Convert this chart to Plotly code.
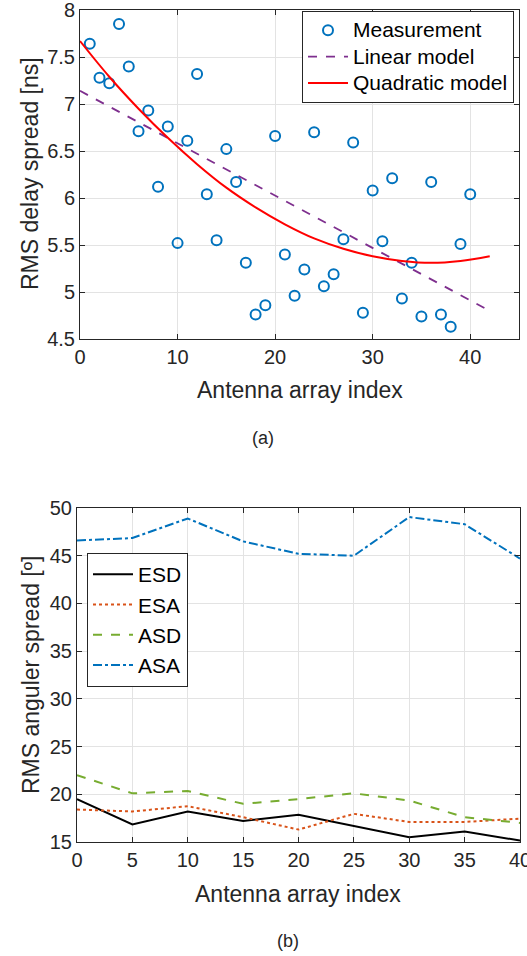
import plotly.graph_objects as go

# ---- data: panel (a) ----
meas_x = list(range(1, 41))
meas_y = [7.64, 7.28, 7.22, 7.85, 7.40, 6.71, 6.93, 6.12, 6.76, 5.52,
          6.61, 7.32, 6.04, 5.55, 6.52, 6.17, 5.31, 4.76, 4.86, 6.66,
          5.40, 4.96, 5.24, 6.70, 5.06, 5.19, 5.56, 6.59, 4.78, 6.08,
          5.54, 6.21, 4.93, 5.31, 4.74, 6.17, 4.76, 4.63, 5.51, 6.04]
lin_x = [0, 42]
lin_y = [7.14, 4.80]
quad_x = [0, 3, 6, 9, 12, 15, 18, 21, 24, 27, 30, 33, 36, 39, 42]
quad_y = [7.67, 7.29, 6.95, 6.64, 6.36, 6.11, 5.90, 5.72, 5.57, 5.46,
          5.38, 5.33, 5.31, 5.33, 5.38]
names_a = ["Measurement", "Linear model", "Quadratic model"]

# ---- data: panel (b) ----
idx = [0, 5, 10, 15, 20, 25, 30, 35, 40]
esd = [19.5, 16.85, 18.2, 17.2, 17.85, 16.65, 15.5, 16.1, 15.15]
esa = [18.4, 18.2, 18.75, 17.6, 16.3, 17.95, 17.1, 17.1, 17.45]
asd = [22.0, 20.1, 20.35, 19.0, 19.5, 20.1, 19.35, 17.6, 17.0]
asa = [46.6, 46.85, 48.9, 46.5, 45.2, 45.0, 49.05, 48.3, 44.7]

W, H = 527, 956
FONT = "Liberation Sans, Arial, Helvetica, sans-serif"
AX = "#262626"
GRID = "#e3e3e3"

def big(t):
    return "<span style='font-size:21px'>" + t + "</span>"

fig = go.Figure()

fig.add_trace(go.Scatter(x=meas_x, y=meas_y, mode="markers", name=big(names_a[0]),
                         marker=dict(symbol="circle-open", size=10, color="#0072BD",
                                     line=dict(width=2, color="#0072BD")),
                         xaxis="x", yaxis="y", legend="legend"))
fig.add_trace(go.Scatter(x=lin_x, y=lin_y, mode="lines", name=big(names_a[1]),
                         line=dict(color="#7E2F8E", dash="dash", width=1.8),
                         xaxis="x", yaxis="y", legend="legend"))
fig.add_trace(go.Scatter(x=quad_x, y=quad_y, mode="lines", name=big(names_a[2]),
                         line=dict(color="#FF0000", width=2, shape="spline"),
                         xaxis="x", yaxis="y", legend="legend"))

fig.add_trace(go.Scatter(x=idx, y=esd, mode="lines", name="ESD",
                         line=dict(color="#000000", width=2),
                         xaxis="x2", yaxis="y2", legend="legend2"))
fig.add_trace(go.Scatter(x=idx, y=esa, mode="lines", name="ESA",
                         line=dict(color="#D95319", width=2, dash="dot"),
                         xaxis="x2", yaxis="y2", legend="legend2"))
fig.add_trace(go.Scatter(x=idx, y=asd, mode="lines", name="ASD",
                         line=dict(color="#77AC30", width=2, dash="dash"),
                         xaxis="x2", yaxis="y2", legend="legend2"))
fig.add_trace(go.Scatter(x=idx, y=asa, mode="lines", name="ASA",
                         line=dict(color="#0072BD", width=2, dash="dashdot"),
                         xaxis="x2", yaxis="y2", legend="legend2"))

def px_x(p):
    return p / W

def px_y(p):
    return 1 - p / H

axis_common = dict(showline=True, linecolor=AX, linewidth=1, mirror="ticks",
                   ticks="inside", ticklen=5, tickcolor=AX, showgrid=True,
                   gridcolor=GRID, gridwidth=1, zeroline=False,
                   ticklabeloverflow="allow",
                   tickfont=dict(family=FONT, size=20, color=AX), automargin=False)

fig.update_layout(
    width=W, height=H, margin=dict(l=0, r=0, t=0, b=0),
    paper_bgcolor="white", plot_bgcolor="white",
    font=dict(family=FONT, color=AX),
    xaxis=dict(domain=[px_x(80), px_x(519)], range=[0, 45], tickvals=[0, 10, 20, 30, 40],
               anchor="y", **axis_common),
    yaxis=dict(domain=[px_y(339), px_y(10)], range=[4.5, 8],
               tickvals=[4.5, 5, 5.5, 6, 6.5, 7, 7.5, 8],
               ticktext=["4.5", "5", "5.5", "6", "6.5", "7", "7.5", "8"],
               anchor="x", **axis_common),
    xaxis2=dict(domain=[px_x(77), px_x(520)], range=[0, 40], tickvals=idx,
                anchor="y2", **axis_common),
    yaxis2=dict(domain=[px_y(842), px_y(508)], range=[15, 50],
                tickvals=[15, 20, 25, 30, 35, 40, 45, 50], anchor="x2", **axis_common),
    legend=dict(x=px_x(302), y=px_y(11), xanchor="left", yanchor="top",
                bgcolor="white", bordercolor=AX, borderwidth=1,
                font=dict(family=FONT, size=18, color="#000000"),
                itemwidth=40, tracegroupgap=0),
    legend2=dict(x=px_x(87), y=px_y(553), xanchor="left", yanchor="top",
                 bgcolor="white", bordercolor=AX, borderwidth=1,
                 font=dict(family=FONT, size=21, color="#000000"),
                 itemwidth=40, tracegroupgap=0),
    showlegend=True,
)

def label(text, xp, yp, size, angle=0):
    return dict(text=text, x=px_x(xp), y=px_y(yp), xref="paper", yref="paper",
                xanchor="center", yanchor="middle", showarrow=False, textangle=angle,
                font=dict(family=FONT, size=size, color=AX))

fig.update_layout(annotations=[
    label("Antenna array index", 300, 390, 23),
    label("RMS delay spread [ns]", 30, 174, 23, -90),
    label("(a)", 263, 438, 18),
    label("Antenna array index", 298, 894, 23),
    label("RMS anguler spread [º]", 31, 675, 23, -90),
    label("(b)", 288, 941, 18),
])

fig.write_html("out.html", config={"displayModeBar": False},
               post_script="document.body.style.margin='0px';document.body.style.overflow='hidden';")
